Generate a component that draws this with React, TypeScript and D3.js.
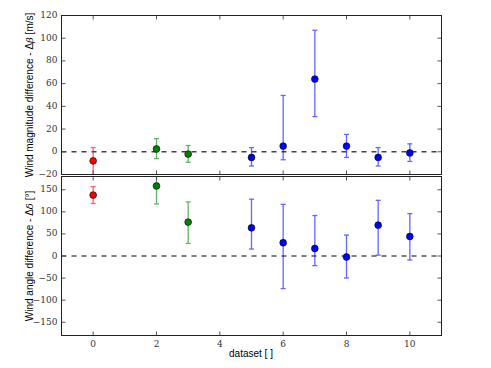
import React from "react";
import * as d3 from "d3";

// dataset index and colour group
const datasets = [0, 2, 3, 5, 6, 7, 8, 9, 10];
const groups = ["red", "green", "green", "blue", "blue", "blue", "blue", "blue", "blue"];

// wind magnitude difference (m/s) with error bar ends
const magnitude = [-8, 2.5, -2, -5, 5, 64, 5, -5, -1];
const magnitudeLow = [-20.5, -6, -9.2, -12.5, -7, 31, -5, -12.5, -8.5];
const magnitudeHigh = [3.7, 11.6, 5.5, 3.7, 49.6, 107, 15.3, 3.7, 7];

// wind angle difference (deg) with error bar ends
const angle = [138, 158.6, 76.7, 63.8, 30, 17, -2.3, 69.9, 44.2];
const angleLow = [119, 118, 28.4, 15.8, -73.8, -21.9, -49.7, 2, -9];
const angleHigh = [157, 199, 122.5, 128.6, 117, 91.6, 47.4, 126, 96];

const xTicks = [0, 2, 4, 6, 8, 10];
const magTicks = [-20, 0, 20, 40, 60, 80, 100, 120];
const angleTicks = [-150, -100, -50, 0, 50, 100, 150];

const fill: Record<string, string> = { red: "#ff0000", green: "#008000", blue: "#0000ff" };

const left = 61.5;
const right = 441.5;
const frame = "#222";
const serif = "'DejaVu Serif', serif";
const sans = "'Liberation Sans', Arial, sans-serif";

const x = d3.scaleLinear().domain([-1, 11]).range([left, right]);

function Panel({ id, top, bottom, domain, ticks, values, low, high, showXLabels, dash, dashWidth }: any) {
  const y = d3.scaleLinear().domain(domain).range([bottom, top]);
  const fmt = d3.format("d");
  return (
    <g>
      <clipPath id={id}>
        <rect x={left} y={top} width={right - left} height={bottom - top} />
      </clipPath>

      {/* zero reference line */}
      <line x1={left} x2={right} y1={y(0)} y2={y(0)} stroke={dash} strokeWidth={dashWidth} strokeDasharray="5,5" />

      {/* error bars + points */}
      <g clipPath={`url(#${id})`}>
        {datasets.map((d, i) => {
          const cx = x(d);
          const c = fill[groups[i]];
          return (
            <g key={i}>
              <g stroke={c} strokeWidth={1.3} opacity={0.6}>
                <line x1={cx} x2={cx} y1={y(low[i])} y2={y(high[i])} />
                <line x1={cx - 2.5} x2={cx + 2.5} y1={y(low[i])} y2={y(low[i])} />
                <line x1={cx - 2.5} x2={cx + 2.5} y1={y(high[i])} y2={y(high[i])} />
              </g>
              <circle cx={cx} cy={y(values[i])} r={3.4} fill={c} stroke="#000" strokeWidth={0.6} />
            </g>
          );
        })}
      </g>

      {/* y ticks both sides, inward */}
      {ticks.map((t: number) => (
        <g key={t}>
          {t !== domain[0] && t !== domain[1] && (
            <>
              <line x1={left} x2={left + 4} y1={y(t)} y2={y(t)} stroke="#555" />
              <line x1={right - 4} x2={right} y1={y(t)} y2={y(t)} stroke="#555" />
            </>
          )}
          <text x={left - 4} y={y(t)} textAnchor="end" dominantBaseline="middle" fontSize={9} fontFamily={serif} fill="#333">
            {fmt(t)}
          </text>
        </g>
      ))}

      {/* x ticks top and bottom, inward */}
      {xTicks.map((t) => (
        <g key={t}>
          <line x1={x(t)} x2={x(t)} y1={top} y2={top + 4} stroke="#555" />
          <line x1={x(t)} x2={x(t)} y1={bottom - 4} y2={bottom} stroke="#555" />
          {showXLabels && (
            <text x={x(t)} y={bottom + 11} textAnchor="middle" fontSize={9} fontFamily={serif} fill="#333">
              {t}
            </text>
          )}
        </g>
      ))}

      <rect x={left} y={top} width={right - left} height={bottom - top} fill="none" stroke={frame} strokeWidth={1} />
    </g>
  );
}

export default function App() {
  return (
    <svg width={491} height={368} style={{ position: "absolute", left: 0, top: 0, background: "#fff" }}>
      <Panel id="clipTop" top={15.5} bottom={174.5} domain={[-20, 120]} ticks={magTicks}
        values={magnitude} low={magnitudeLow} high={magnitudeHigh} showXLabels={false} dash="#444" dashWidth={1.5} />
      <Panel id="clipBottom" top={176.5} bottom={335.5} domain={[-180, 180]} ticks={angleTicks}
        values={angle} low={angleLow} high={angleHigh} showXLabels={true} dash="#000" dashWidth={1} />

      <text transform="translate(33,95) rotate(-90)" textAnchor="middle" fontSize={10} fontFamily={sans} fill="#000">
        Wind magnitude difference - Δ<tspan fontFamily={serif} fontStyle="italic">β</tspan> [m/s]
      </text>
      <text transform="translate(33,256) rotate(-90)" textAnchor="middle" fontSize={10} fontFamily={sans} fill="#000">
        Wind angle difference - Δ<tspan fontFamily={serif} fontStyle="italic">δ</tspan> [°]
      </text>
      <text x={251} y={357} textAnchor="middle" fontSize={10} fontFamily={sans} fill="#000">
        dataset [ ]
      </text>
    </svg>
  );
}
